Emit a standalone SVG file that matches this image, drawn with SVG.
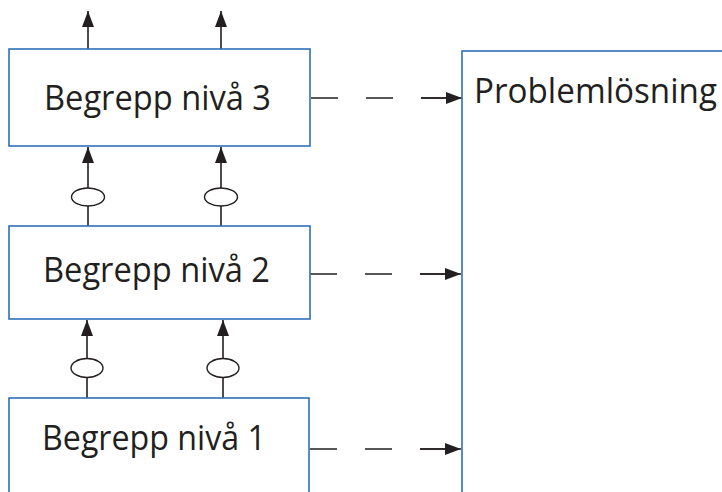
<svg xmlns="http://www.w3.org/2000/svg" width="722" height="492" viewBox="0 0 722 492">
<defs>
<style>
.box{fill:#fff;stroke:#2f6fba;stroke-width:1.6}
.lbl{font-family:"Open Sans","Liberation Sans",sans-serif;font-size:34px;fill:#231f20}
.ln{stroke:#231f20;stroke-width:1.6;fill:none}
.dash{stroke:#231f20;stroke-width:1.6;fill:none;stroke-dasharray:27 28}
.ell{fill:#fff;stroke:#231f20;stroke-width:1.4}
</style>
<marker id="ah" viewBox="0 0 16 12" refX="16" refY="6" markerWidth="16" markerHeight="12" markerUnits="userSpaceOnUse" orient="auto">
<path d="M0,0 L16,6 L0,12 Z" fill="#231f20"/>
</marker>
</defs>
<g id="connectors">
<line class="ln" x1="88" y1="49" x2="88" y2="11" marker-end="url(#ah)"/>
<line class="ln" x1="221" y1="49" x2="221" y2="11" marker-end="url(#ah)"/>
<line class="ln" x1="88" y1="226" x2="88" y2="147" marker-end="url(#ah)"/>
<line class="ln" x1="221" y1="226" x2="221" y2="147" marker-end="url(#ah)"/>
<ellipse class="ell" cx="88" cy="197" rx="16.5" ry="9"/>
<ellipse class="ell" cx="221" cy="197" rx="16.5" ry="9"/>
<line class="ln" x1="87" y1="398" x2="87" y2="320" marker-end="url(#ah)"/>
<line class="ln" x1="223" y1="398" x2="223" y2="320" marker-end="url(#ah)"/>
<ellipse class="ell" cx="87" cy="368" rx="16" ry="9.5"/>
<ellipse class="ell" cx="223" cy="368" rx="16" ry="9.5"/>
<line class="dash" x1="311" y1="98" x2="446" y2="98"/>
<line class="ln" x1="421" y1="98" x2="462" y2="98" marker-end="url(#ah)"/>
<line class="dash" x1="310" y1="274" x2="446" y2="274"/>
<line class="ln" x1="420" y1="274" x2="461" y2="274" marker-end="url(#ah)"/>
<line class="dash" x1="310" y1="449" x2="446" y2="449"/>
<line class="ln" x1="420" y1="449" x2="461" y2="449" marker-end="url(#ah)"/>
</g>
<g id="niva3">
<rect class="box" x="9" y="49" width="301" height="97"/>
<text class="lbl" x="44" y="110" textLength="227" lengthAdjust="spacingAndGlyphs">Begrepp nivå 3</text>
</g>
<g id="niva2">
<rect class="box" x="9" y="226" width="301" height="93"/>
<text class="lbl" x="43" y="282" textLength="227" lengthAdjust="spacingAndGlyphs">Begrepp nivå 2</text>
</g>
<g id="niva1">
<rect class="box" x="9" y="398" width="300" height="110"/>
<text class="lbl" x="42" y="450" textLength="224" lengthAdjust="spacingAndGlyphs">Begrepp nivå 1</text>
</g>
<g id="problemlosning">
<rect class="box" x="462" y="51" width="280" height="460"/>
<text class="lbl" x="474" y="103" textLength="243" lengthAdjust="spacingAndGlyphs">Problemlösning</text>
</g>
</svg>
